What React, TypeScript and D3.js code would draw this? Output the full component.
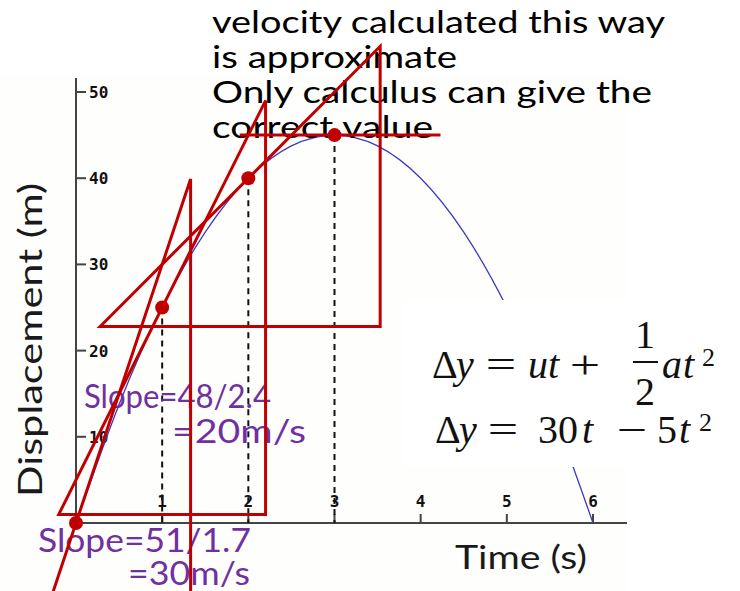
import React, { useEffect } from "react";
import * as d3 from "d3";

// Displacement of the ball read every half second
const sampleTimes = [0, 0.5, 1, 1.5, 2, 2.5, 3, 3.5, 4, 4.5, 5, 5.5, 6];
const displacement = [0, 13.75, 25, 33.75, 40, 43.75, 45, 43.75, 40, 33.75, 25, 13.75, 0];

const xTicks = [1, 2, 3, 4, 5, 6];
const yTicks = [10, 20, 30, 40, 50];

// Points where the tangent is drawn
const markedTimes = [0, 1, 2, 3];
const markedDisplacement = [0, 25, 40, 45];
// Slope triangles: rise (m) over run (s), and the time of the vertical side
const triangleRise = [51, 48, 32.5, 0];
const triangleRun = [1.7, 2.4, 3.25, 2.33];
const triangleEnd = [1.33, 2.2, 3.53, 4.23];

const noteLines = [
  "velocity calculated this way",
  "is approximate",
  "Only calculus can give the",
  "correct value",
];
const slopeNotes = [
  ["Slope=51/1.7", "=30m/s"],
  ["Slope=48/2.4", "=20m/s"],
];

const W = 740;
const H = 591;
const RED = "#c00000";
const PURPLE = "#7030a0";
const SANS = "Lato, 'Open Sans', sans-serif";
const MATH = "'Liberation Serif', 'DejaVu Serif', serif";
const TICK_FONT = "'DejaVu Sans Mono', monospace";

type Tok = { s: string; x: number; it?: boolean; mid?: boolean };

export default function App() {
  useEffect(() => {
    document.body.style.margin = "0";
  }, []);

  const x = d3.scaleLinear().domain([0, 6]).range([76, 593]);
  const y = d3.scaleLinear().domain([0, 50]).range([523, 92]);

  const curve = d3
    .line<number>()
    .x((_, i) => x(sampleTimes[i]))
    .y((d) => y(d))
    .curve(d3.curveNatural)(displacement) as string;

  const triangles = markedTimes.map((t0, i) => {
    const slope = triangleRun[i] ? triangleRise[i] / triangleRun[i] : 0;
    const right = triangleEnd[i];
    const left = right - triangleRun[i];
    const y0 = markedDisplacement[i];
    const base = y0 + slope * (left - t0);
    const top = y0 + slope * (right - t0);
    return (
      d3.line()([
        [x(left), y(base)],
        [x(right), y(top)],
        [x(right), y(base)],
      ]) + "Z"
    );
  });

  const noteBaselines = [33, 68, 103, 138];
  const noteLengths = [453, 245, 440, 221];
  const slopePos = [
    [
      { x: 38, y: 552, len: 213 },
      { x: 128, y: 585, len: 122 },
    ],
    [
      { x: 84, y: 408, len: 187 },
      { x: 172, y: 443, len: 134 },
    ],
  ];

  const eq1: Tok[] = [
    { s: "Δ", x: 432 },
    { s: "y", x: 456, it: true },
    { s: "=", x: 501, mid: true },
    { s: "u", x: 528, it: true },
    { s: "t", x: 548, it: true },
    { s: "+", x: 585, mid: true },
    { s: "a", x: 662, it: true },
    { s: "t", x: 683, it: true },
  ];
  const eq2: Tok[] = [
    { s: "Δ", x: 435 },
    { s: "y", x: 459, it: true },
    { s: "=", x: 503, mid: true },
    { s: "30", x: 538 },
    { s: "t", x: 582, it: true },
    { s: "−", x: 632, mid: true },
    { s: "5", x: 657 },
    { s: "t", x: 679, it: true },
  ];

  const renderTok = (tk: Tok, yb: number, key: string) => (
    <text
      key={key}
      x={tk.x}
      y={yb}
      fontStyle={tk.it ? "italic" : "normal"}
      textAnchor={tk.mid ? "middle" : "start"}
      transform={tk.mid ? `translate(${tk.x},${yb}) scale(1.35,1) translate(${-tk.x},${-yb})` : undefined}
    >
      {tk.s}
    </text>
  );

  return (
    <svg
      width={W}
      height={H}
      style={{ position: "absolute", left: 0, top: 0, display: "block", background: "#ffffff" }}
    >
      <rect x={0} y={75} width={627} height={H - 75} fill="#fefefd" />

      {/* axes */}
      <line x1={x(0)} x2={x(0)} y1={78} y2={y(0)} stroke="#444" strokeWidth={2} />
      <line x1={x(0)} x2={627} y1={y(0)} y2={y(0)} stroke="#444" strokeWidth={2} />
      {yTicks.map((v) => (
        <g key={"y" + v}>
          <line x1={x(0)} x2={x(0) + 10} y1={y(v)} y2={y(v)} stroke="#444" strokeWidth={2} />
          <text
            x={x(0) + 13}
            y={y(v) + 6}
            fontFamily={TICK_FONT}
            fontWeight="bold"
            fontSize={16}
            fill="#111"
          >
            {v}
          </text>
        </g>
      ))}
      {xTicks.map((v) => (
        <g key={"x" + v}>
          <line x1={x(v)} x2={x(v)} y1={y(0)} y2={y(0) - 9} stroke="#444" strokeWidth={2} />
          <text
            x={x(v)}
            y={507}
            textAnchor="middle"
            fontFamily={TICK_FONT}
            fontWeight="bold"
            fontSize={16}
            fill="#111"
          >
            {v}
          </text>
        </g>
      ))}

      {/* displacement curve */}
      <path d={curve} fill="none" stroke="#3a3ac0" strokeWidth={1.3} />

      {/* drop lines */}
      {markedTimes.slice(1).map((t, i) => (
        <line
          key={"d" + t}
          x1={x(t)}
          x2={x(t)}
          y1={y(markedDisplacement[i + 1])}
          y2={y(0)}
          stroke="#111"
          strokeWidth={2}
          strokeDasharray="6,5"
        />
      ))}

      {/* equation box */}
      <rect x={403} y={300} width={337} height={167} fill="#ffffff" />
      <g fontFamily={MATH} fontSize={40} fill="#111">
        {eq1.map((tk, i) => renderTok(tk, 378, "e1" + i))}
        <text x={645} y={348} textAnchor="middle">1</text>
        <line x1={633} x2={658} y1={362} y2={362} stroke="#111" strokeWidth={2} />
        <text x={645} y={405} textAnchor="middle">2</text>
        <text x={702} y={366} fontSize={26}>2</text>
        {eq2.map((tk, i) => renderTok(tk, 443, "e2" + i))}
        <text x={699} y={431} fontSize={26}>2</text>
      </g>

      {/* axis titles */}
      <text
        transform="translate(42,340) rotate(-90)"
        textAnchor="middle"
        fontFamily={SANS}
        fontSize={32}
        fill="#1a1a1a"
        textLength={314}
        lengthAdjust="spacingAndGlyphs"
      >
        Displacement (m)
      </text>
      <text
        x={455}
        y={569}
        fontFamily={SANS}
        fontSize={32}
        fill="#1a1a1a"
        textLength={132}
        lengthAdjust="spacingAndGlyphs"
      >
        Time (s)
      </text>

      {/* note */}
      {noteLines.map((s, i) => (
        <text
          key={"n" + i}
          x={212}
          y={noteBaselines[i]}
          fontFamily={SANS}
          fontSize={31}
          fill="#000"
          textLength={noteLengths[i]}
          lengthAdjust="spacingAndGlyphs"
        >
          {s}
        </text>
      ))}

      {/* slope labels */}
      {slopeNotes.map((pair, i) =>
        pair.map((s, j) => (
          <text
            key={"s" + i + j}
            x={slopePos[i][j].x}
            y={slopePos[i][j].y}
            fontFamily={SANS}
            fontSize={32}
            fill={PURPLE}
            textLength={slopePos[i][j].len}
            lengthAdjust="spacingAndGlyphs"
          >
            {s}
          </text>
        ))
      )}

      {/* tangent triangles */}
      {triangles.map((d, i) => (
        <path key={"t" + i} d={d} fill="none" stroke={RED} strokeWidth={3} strokeLinejoin="miter" />
      ))}
      {markedTimes.map((t, i) => (
        <circle key={"c" + t} cx={x(t)} cy={y(markedDisplacement[i])} r={7} fill={RED} />
      ))}
    </svg>
  );
}
